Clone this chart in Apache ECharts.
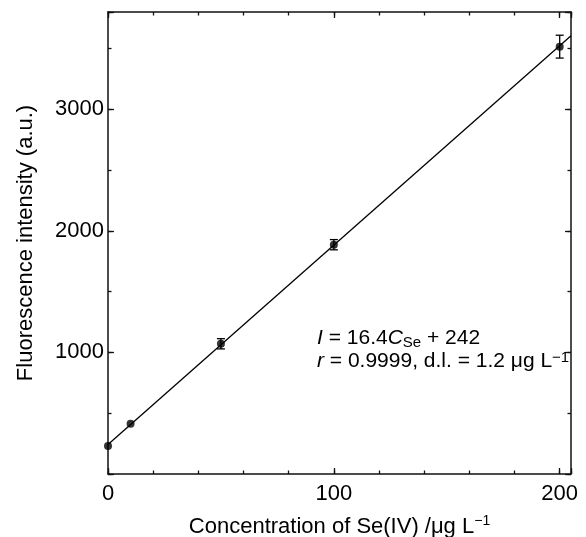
<!DOCTYPE html>
<html>
<head>
<meta charset="utf-8">
<script src="https://cdn.jsdelivr.net/npm/echarts@6/dist/echarts.min.js"></script>
<style>
  html, body { margin: 0; padding: 0; background: #fff; }
  #chart { width: 586px; height: 537px; }
</style>
</head>
<body>
<div id="chart"></div>
<script>
// data
var concentration = [0, 10, 50, 100, 200];     // µg/L
var intensity = [230, 413, 1071, 1886, 3515];   // a.u.
var errorBar = [0, 0, 42, 42, 94];              // +/- a.u.
// fitted line I = 16.4 C + 242, end points at the plot edges
var fitX = [0, 205];
var fitY = [242, 3604];
var xTickLabels = [0, 100, 200];
var yTickLabels = [1000, 2000, 3000];

var FONT = '"Liberation Sans", Arial, sans-serif';
var X_MAX = 205, Y_MAX = 3800;

var chart = echarts.init(document.getElementById('chart'));

var box = { left: 108, top: 12, right: 15, bottom: 63 };

// one axis helper, ticks drawn inside like the original figure
function axis(dim, grid, pos, interval, tickLen, labels) {
  var a = {
    type: 'value',
    gridIndex: grid,
    position: pos,
    min: 0,
    max: dim === 'x' ? X_MAX : Y_MAX,
    interval: interval,
    splitLine: { show: false },
    axisLine: { show: grid === 0, onZero: false, lineStyle: { color: '#111', width: 1.5 } },
    axisTick: { show: true, inside: true, length: tickLen, lineStyle: { color: '#111', width: 1.3 } },
    axisLabel: { show: false }
  };
  if (labels) {
    a.axisLabel = {
      show: true,
      color: '#000',
      fontSize: 22,
      fontFamily: FONT,
      margin: dim === 'x' ? 9 : 4,
      formatter: function (v) {
        return labels.indexOf(v) >= 0 ? String(v) : '';
      }
    };
  }
  return a;
}

var xAxes = [
  axis('x', 0, 'bottom', 100, 6, xTickLabels),
  axis('x', 0, 'top', 100, 6),
  axis('x', 1, 'bottom', 20, 3.5),
  axis('x', 1, 'top', 20, 3.5)
];
var yAxes = [
  axis('y', 0, 'left', 1000, 6, yTickLabels),
  axis('y', 0, 'right', 1000, 6),
  axis('y', 1, 'left', 500, 3.5),
  axis('y', 1, 'right', 500, 3.5)
];

xAxes[0].name = '{n|Concentration of Se(IV) /μg L}{sup|−1}';
xAxes[0].nameLocation = 'middle';
xAxes[0].nameGap = 40;
xAxes[0].nameTextStyle = {
  color: '#000', fontFamily: FONT, fontSize: 22,
  rich: {
    n: { color: '#000', fontFamily: FONT, fontSize: 22, lineHeight: 26 },
    sup: { color: '#000', fontFamily: FONT, fontSize: 14, lineHeight: 6, verticalAlign: 'top' }
  }
};
yAxes[0].name = 'Fluorescence intensity (a.u.)';
yAxes[0].nameLocation = 'middle';
yAxes[0].nameGap = 71;
yAxes[0].nameTextStyle = { color: '#000', fontFamily: FONT, fontSize: 22 };

var points = concentration.map(function (c, i) { return [c, intensity[i]]; });
var bars = concentration.map(function (c, i) { return [c, intensity[i], errorBar[i]]; });
var fitLine = fitX.map(function (x, i) { return [x, fitY[i]]; });

option = {
  backgroundColor: '#fff',
  animation: false,
  grid: [
    { left: box.left, top: box.top, right: box.right, bottom: box.bottom, containLabel: false, outerBoundsMode: 'none' },
    { left: box.left, top: box.top, right: box.right, bottom: box.bottom, containLabel: false, outerBoundsMode: 'none' }
  ],
  xAxis: xAxes,
  yAxis: yAxes,
  series: [
    {
      type: 'line',
      xAxisIndex: 0, yAxisIndex: 0,
      data: fitLine,
      showSymbol: false,
      lineStyle: { color: '#000', width: 1.3 },
      z: 2
    },
    {
      type: 'custom',
      xAxisIndex: 0, yAxisIndex: 0,
      data: bars,
      z: 3,
      renderItem: function (params, api) {
        var err = api.value(2);
        if (!err) return null;
        var x = api.value(0), y = api.value(1);
        var hi = api.coord([x, y + err]);
        var lo = api.coord([x, y - err]);
        var cap = 4;
        var st = { stroke: '#000', lineWidth: 1.3 };
        return {
          type: 'group',
          children: [
            { type: 'line', shape: { x1: hi[0], y1: hi[1], x2: lo[0], y2: lo[1] }, style: st },
            { type: 'line', shape: { x1: hi[0] - cap, y1: hi[1], x2: hi[0] + cap, y2: hi[1] }, style: st },
            { type: 'line', shape: { x1: lo[0] - cap, y1: lo[1], x2: lo[0] + cap, y2: lo[1] }, style: st }
          ]
        };
      }
    },
    {
      type: 'scatter',
      xAxisIndex: 0, yAxisIndex: 0,
      data: points,
      symbol: 'circle',
      symbolSize: 8,
      itemStyle: { color: '#000' },
      z: 4
    }
  ],
  graphic: [
    {
      type: 'text',
      left: 317,
      top: 327,
      z: 10,
      style: {
        text: '{it|I} = 16.4{it|C}{sub|Se} + 242\n{it|r} = 0.9999, d.l. = 1.2 μg L{sup|−1}',
        fill: '#000',
        font: '21px ' + FONT,
        lineHeight: 23,
        rich: {
          it: { fontStyle: 'italic', fontSize: 21, fontFamily: FONT, lineHeight: 23, fill: '#000' },
          sub: { fontSize: 15, fontFamily: FONT, lineHeight: 10, verticalAlign: 'bottom', fill: '#000' },
          sup: { fontSize: 15, fontFamily: FONT, lineHeight: 14, verticalAlign: 'top', fill: '#000' }
        }
      }
    }
  ]
};

chart.setOption(option);
</script>
</body>
</html>
